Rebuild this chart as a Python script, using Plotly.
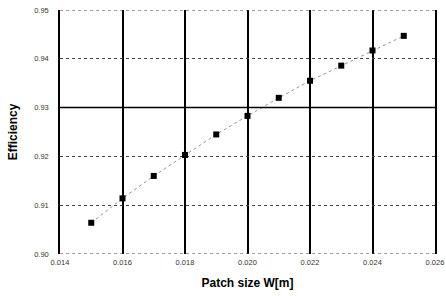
import plotly.graph_objects as go

# Data
patch_size = [0.015, 0.016, 0.017, 0.018, 0.019, 0.020, 0.021, 0.022, 0.023, 0.024, 0.025]
efficiency = [0.9064, 0.9114, 0.9160, 0.9203, 0.9245, 0.9283, 0.9320, 0.9355, 0.9386, 0.9417, 0.9447]

x_ticks = [0.014, 0.016, 0.018, 0.020, 0.022, 0.024, 0.026]
x_tick_labels = ["0.014", "0.016", "0.018", "0.020", "0.022", "0.024", "0.026"]
y_ticks = [0.90, 0.91, 0.92, 0.93, 0.94, 0.95]
y_tick_labels = ["0.90", "0.91", "0.92", "0.93", "0.94", "0.95"]
solid_hlines = [0.93]
edge_hlines = [0.90, 0.95]

fig = go.Figure()
fig.add_trace(go.Scatter(
    x=patch_size, y=efficiency, mode="lines+markers",
    line=dict(color="#777", width=0.8, dash="dot"),
    marker=dict(symbol="square", size=6, color="black"),
    showlegend=False,
))
for yv in solid_hlines:
    fig.add_hline(y=yv, line=dict(color="black", width=1.5))
for yv in edge_hlines:
    fig.add_hline(y=yv, line=dict(color="#444", width=1, dash="dot"))

fig.update_layout(
    width=446, height=296,
    margin=dict(l=60, r=11, t=10, b=42),
    paper_bgcolor="white", plot_bgcolor="white",
    font=dict(family="Liberation Sans, Arial, sans-serif", color="#222"),
    xaxis=dict(
        range=[0.014, 0.026], tickvals=x_ticks, ticktext=x_tick_labels,
        showgrid=True, gridcolor="black", gridwidth=1.5,
        showline=False, zeroline=False, automargin=False,
        tickfont=dict(size=7.5, color="#333"), ticklabelstandoff=2,
        title=dict(text="<b>Patch size W[m]</b>", font=dict(size=12, color="black"), standoff=13),
    ),
    yaxis=dict(
        range=[0.90, 0.95], tickvals=y_ticks, ticktext=y_tick_labels,
        showgrid=True, gridcolor="#444", gridwidth=1, griddash="dot",
        showline=True, mirror=True, linecolor="black", linewidth=1.5,
        zeroline=False, automargin=False,
        tickfont=dict(size=7.5, color="#333"), ticklabelstandoff=8,
        title=dict(text="<b>Efficiency</b>", font=dict(size=12, color="black"), standoff=14),
    ),
)

fig.write_html("out.html", config={"displayModeBar": False},
               post_script="document.body.style.margin='0';")
